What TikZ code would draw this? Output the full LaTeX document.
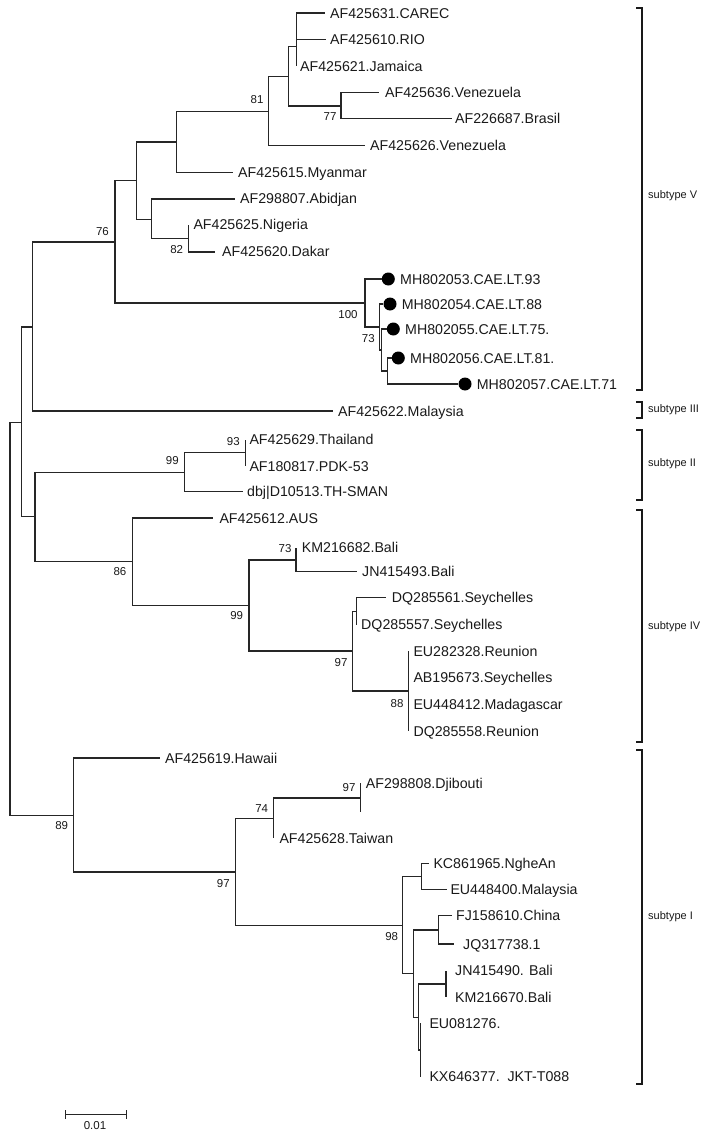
\documentclass[tikz,border=0pt]{standalone}
\usepackage{fontspec}
\setmainfont{Liberation Sans}
\begin{document}
\begin{tikzpicture}[x=1pt,y=-1pt,
 br/.style={draw=black!85,line width=1.4pt},
 brk/.style={draw=black!90,line width=1.4pt},
 lab/.style={anchor=west,inner ysep=0pt,inner xsep=5pt,text height=10.2pt,text depth=0pt,font=\fontsize{14.2}{16}\selectfont,text=black!90},
 bs/.style={inner sep=0pt,font=\fontsize{11.5}{13}\selectfont,text=black!90},
 sub/.style={anchor=west,inner sep=0pt,font=\fontsize{11}{13}\selectfont,text=black!90},
 dot/.style={circle,fill=black,inner sep=0pt,minimum size=13pt}]
\useasboundingbox (0,0) rectangle (710,1134);
% ---------- subtype V ----------
\coordinate (nA) at (296.3,46.7);
\node[lab] (tCAREC) at (325,13) {AF425631.CAREC};
\node[lab,inner xsep=4pt] (tRIO) at (326,39.3) {AF425610.RIO};
\node[lab,inner xsep=3.7pt] (tJam) at (296.3,66) {AF425621.Jamaica};
\coordinate (n77) at (341,106);
\node[lab,inner xsep=6pt] (tVen1) at (379,92.7) {AF425636.Venezuela};
\node[lab,inner xsep=3pt] (tBra) at (452,118.7) {AF226687.Brasil};
\coordinate (nB) at (288.3,76.3);
\coordinate (n81) at (268.7,111.5);
\node[lab] (tVen2) at (365,145.3) {AF425626.Venezuela};
\coordinate (nMy) at (176.7,142);
\node[lab] (tMy) at (233,172.3) {AF425615.Myanmar};
\coordinate (n82) at (188.3,238.5);
\node[lab] (tNig) at (188.3,224.7) {AF425625.Nigeria};
\node[lab,inner xsep=7pt] (tDak) at (215,251.8) {AF425620.Dakar};
\coordinate (nAb) at (151.7,219.3);
\node[lab] (tAb) at (235,198.8) {AF298807.Abidjan};
\coordinate (nC) at (136.7,180.5);
\coordinate (n76) at (115,242);
\coordinate (n100) at (365,303);
\coordinate (n73M) at (379.3,327);
\coordinate (n55) at (381.7,350);
\coordinate (n5657) at (387.3,371);
\node[dot] (d53) at (388.3,279) {};
\node[dot] (d54) at (390,304) {};
\node[dot] (d55) at (393.3,329) {};
\node[dot] (d56) at (398.3,358) {};
\node[dot] (d57) at (465,384) {};
\node[lab] (t53) at (d53.east) {MH802053.CAE.LT.93};
\node[lab] (t54) at (d54.east) {MH802054.CAE.LT.88};
\node[lab] (t55) at (d55.east) {MH802055.CAE.LT.75.};
\node[lab] (t56) at (d56.east) {MH802056.CAE.LT.81.};
\node[lab] (t57) at (d57.east) {MH802057.CAE.LT.71};
\coordinate (nD) at (32.3,327);
\node[lab] (tMal) at (333,411) {AF425622.Malaysia};
% ---------- subtype II ----------
\coordinate (n93) at (245.7,452.7);
\node[lab,inner xsep=3.6pt] (tThai) at (245.7,439.5) {AF425629.Thailand};
\node[lab,inner xsep=3.6pt] (tPDK) at (245.7,466) {AF180817.PDK-53};
\coordinate (n99a) at (184.3,472.5);
\node[lab,inner xsep=3.7pt] (tdbj) at (243.3,491.5) {dbj|D10513.TH-SMAN};
% ---------- subtype IV ----------
\coordinate (n73B) at (296,560);
\node[lab,inner xsep=5.7pt] (tKM82) at (296,547.5) {KM216682.Bali};
\node[lab] (tJN93) at (357,571.5) {JN415493.Bali};
\coordinate (nSey) at (356.7,611.5);
\node[lab,inner xsep=5.7pt] (tDQ61) at (386,597.5) {DQ285561.Seychelles};
\node[lab,inner xsep=4.3pt] (tDQ57) at (356.7,624.5) {DQ285557.Seychelles};
\coordinate (n88) at (408.3,691);
\node[lab] (tEU28) at (408.3,651) {EU282328.Reunion};
\node[lab] (tAB) at (408.3,677.3) {AB195673.Seychelles};
\node[lab] (tEU44) at (408.3,704) {EU448412.Madagascar};
\node[lab] (tDQ58) at (408.3,731) {DQ285558.Reunion};
\coordinate (n97b) at (352.7,651);
\coordinate (n99b) at (249,605.5);
\coordinate (n86) at (132.3,561.7);
\node[lab,inner xsep=6pt] (tAUS) at (213.3,518) {AF425612.AUS};
\coordinate (nE) at (35,516.5);
\coordinate (nF) at (21.7,422.5);
% ---------- subtype I ----------
\coordinate (nDj) at (360.7,798);
\node[lab] (tDj) at (360.7,783) {AF298808.Djibouti};
\coordinate (tDj2) at (360.7,812);
\coordinate (n74) at (273.3,818.3);
\node[lab,inner xsep=6pt] (tTai) at (273.3,838) {AF425628.Taiwan};
\coordinate (nNg) at (421.7,876.5);
\node[lab,inner xsep=4pt] (tNg) at (429.3,863.3) {KC861965.NgheAn};
\node[lab,inner xsep=3pt] (tEU40) at (447.3,889.5) {EU448400.Malaysia};
\coordinate (nCh) at (438.3,930);
\node[lab,inner xsep=4.3pt] (tFJ) at (451.7,915.7) {FJ158610.China};
\node[lab,inner xsep=9pt] (tJQ) at (454,944) {JQ317738.1};
\coordinate (nBali) at (446,984);
\node[lab,inner xsep=9pt] (tJN90) at (446,970.5) {JN415490. Bali};
\node[lab,inner xsep=9pt] (tKM70) at (446,997) {KM216670.Bali};
\coordinate (nZ) at (420.7,1050);
\node[lab,inner xsep=8.6pt] (tEU08) at (420.7,1023) {EU081276.};
\node[lab,inner xsep=8.6pt] (tKX) at (420.7,1076.5) {KX646377.\ \ JKT-T088};
\coordinate (nY) at (418.3,1017.3);
\coordinate (nX) at (413.3,973.3);
\coordinate (n98) at (402.7,925.5);
\coordinate (n97c) at (235.7,872);
\coordinate (n89) at (73.3,815.3);
\node[lab] (tHaw) at (160,758) {AF425619.Hawaii};
\coordinate (root) at (10,619);
% ---------- branches ----------
\draw[br] (nA) |- (tCAREC.west); \draw[br] (nA) |- (tRIO.west); \draw[br] (nA) |- (tJam.west);
\draw[br] (n77) |- (tVen1.west); \draw[br] (n77) |- (tBra.west);
\draw[br] (nB) |- (nA); \draw[br] (nB) |- (n77);
\draw[br] (n81) |- (nB); \draw[br] (n81) |- (tVen2.west);
\draw[br] (nMy) |- (n81); \draw[br] (nMy) |- (tMy.west);
\draw[br] (n82) |- (tNig.west); \draw[br] (n82) |- (tDak.west);
\draw[br] (nAb) |- (tAb.west); \draw[br] (nAb) |- (n82);
\draw[br] (nC) |- (nMy); \draw[br] (nC) |- (nAb);
\draw[br] (n76) |- (nC); \draw[br] (n76) |- (n100);
\draw[br] (n100) |- (d53.west); \draw[br] (n100) |- (n73M);
\draw[br] (n73M) |- (d54.west); \draw[br] (n73M) |- (n55);
\draw[br] (n55) |- (d55.west); \draw[br] (n55) |- (n5657);
\draw[br] (n5657) |- (d56.west); \draw[br] (n5657) |- (d57.west);
\draw[br] (nD) |- (n76); \draw[br] (nD) |- (tMal.west);
\draw[br] (n93) |- (tThai.west); \draw[br] (n93) |- (tPDK.west);
\draw[br] (n99a) |- (n93); \draw[br] (n99a) |- (tdbj.west);
\draw[br] (n73B) |- (tKM82.west); \draw[br] (n73B) |- (tJN93.west);
\draw[br] (nSey) |- (tDQ61.west); \draw[br] (nSey) |- (tDQ57.west);
\draw[br] (n88) |- (tEU28.west); \draw[br] (n88) |- (tAB.west);
\draw[br] (n88) |- (tEU44.west); \draw[br] (n88) |- (tDQ58.west);
\draw[br] (n97b) |- (nSey); \draw[br] (n97b) |- (n88);
\draw[br] (n99b) |- (n73B); \draw[br] (n99b) |- (n97b);
\draw[br] (n86) |- (tAUS.west); \draw[br] (n86) |- (n99b);
\draw[br] (nE) |- (n99a); \draw[br] (nE) |- (n86);
\draw[br] (nF) |- (nD); \draw[br] (nF) |- (nE);
\draw[br] (nDj) |- (tDj.west); \draw[br] (nDj) -- (tDj2);
\draw[br] (n74) |- (nDj); \draw[br] (n74) |- (tTai.west);
\draw[br] (nNg) |- (tNg.west); \draw[br] (nNg) |- (tEU40.west);
\draw[br] (nCh) |- (tFJ.west); \draw[br] (nCh) |- (tJQ.west);
\draw[br] (nBali) |- (tJN90.west); \draw[br] (nBali) |- (tKM70.west);
\draw[br] (nZ) |- (tEU08.west); \draw[br] (nZ) |- (tKX.west);
\draw[br] (nY) |- (nBali); \draw[br] (nY) |- (nZ);
\draw[br] (nX) |- (nCh); \draw[br] (nX) |- (nY);
\draw[br] (n98) |- (nNg); \draw[br] (n98) |- (nX);
\draw[br] (n97c) |- (n74); \draw[br] (n97c) |- (n98);
\draw[br] (n89) |- (tHaw.west); \draw[br] (n89) |- (n97c);
\draw[br] (root) |- (nF); \draw[br] (root) |- (n89);
% ---------- bootstrap values ----------
\node[bs] (b81) at (257,100) {81};
\node[bs] (b77) at (330,117) {77};
\node[bs] (b82) at (176.7,250) {82};
\node[bs] (b76) at (102.5,231.7) {76};
\node[bs] (b100) at (348,315) {100};
\node[bs] (b73a) at (368.3,339) {73};
\node[bs] (b99a) at (172.3,461) {99};
\node[bs] (b93) at (233.3,441.7) {93};
\node[bs] (b86) at (120,572) {86};
\node[bs] (b73b) at (285,548.3) {73};
\node[bs] (b99b) at (236.7,616) {99};
\node[bs] (b97a) at (341,662.7) {97};
\node[bs] (b88) at (397,704) {88};
\node[bs] (b89) at (61.7,826) {89};
\node[bs] (b97b) at (223.3,883.3) {97};
\node[bs] (b74) at (261.7,808.3) {74};
\node[bs] (b97c) at (349,788) {97};
\node[bs] (b98) at (391.7,936.7) {98};
% ---------- subtype brackets ----------
\draw[brk] (636,8) -- (642,8) -- (642,390) -- (636,390);
\draw[brk] (636,402) -- (642,402) -- (642,418) -- (636,418);
\draw[brk] (636,430) -- (642,430) -- (642,500) -- (636,500);
\draw[brk] (636,510) -- (642,510) -- (642,742) -- (636,742);
\draw[brk] (636,750) -- (642,750) -- (642,1084) -- (636,1084);
\node[sub] (sV) at (648,196) {subtype V};
\node[sub] (sIII) at (648,410) {subtype III};
\node[sub] (sII) at (648,464) {subtype II};
\node[sub] (sIV) at (648,627) {subtype IV};
\node[sub] (sI) at (648,917) {subtype I};
% ---------- scale bar ----------
\coordinate (sb1) at (65.7,1114.3);
\coordinate (sb2) at (126.7,1114.3);
\draw[br] (sb1) -- (sb2);
\draw[br] ([yshift=-4.5pt]sb1) -- ([yshift=4.5pt]sb1);
\draw[br] ([yshift=-4.5pt]sb2) -- ([yshift=4.5pt]sb2);
\node[bs] (sbl) at (95,1126) {0.01};
\end{tikzpicture}
\end{document}
